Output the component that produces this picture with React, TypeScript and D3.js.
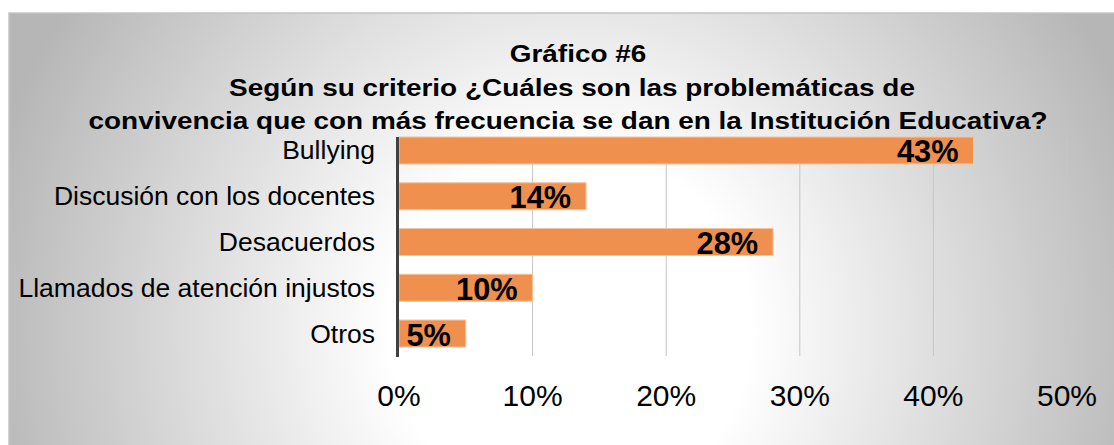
import React from 'react';
import * as d3 from 'd3';

// chart values
const categories = [
  'Bullying',
  'Discusión con los docentes',
  'Desacuerdos',
  'Llamados de atención injustos',
  'Otros',
];
const values = [43, 14, 28, 10, 5];
const xTicks = [0, 10, 20, 30, 40, 50];
const titleLines = [
  'Gráfico #6',
  'Según su criterio ¿Cuáles son las problemáticas de',
  'convivencia que con más frecuencia se dan en la Institución Educativa?',
];

const width = 1114;
const height = 445;
const font = '"Liberation Sans", Arial, sans-serif';

export default function App() {
  const x = d3.scaleLinear().domain([0, 50]).range([399, 1067]);
  const y = d3.scaleBand().domain(categories).range([137, 347]).paddingInner(0.41).paddingOuter(0);
  const titleX = [578, 572, 568];
  const titleY = [62, 96, 129];

  return (
    <div style={{ position: 'fixed', left: 0, top: 0 }}>
      <svg width={width} height={height} style={{ display: 'block' }}>
        <defs>
          <radialGradient id="bg" gradientUnits="userSpaceOnUse" cx={570} cy={330} r={600}>
            <stop offset="0" stopColor="#ffffff" />
            <stop offset="0.3" stopColor="#ffffff" />
            <stop offset="1" stopColor="#b6b6b6" />
          </radialGradient>
        </defs>
        <rect x={0} y={0} width={width} height={height} fill="#fff" />
        <rect x={9} y={13} width={width} height={height} fill="url(#bg)" stroke="#c4c4c4" strokeWidth={1.5} />

        {xTicks.slice(1).map(t => (
          <line key={t} x1={x(t)} x2={x(t)} y1={137} y2={356} stroke="#c6c6c6" strokeWidth={1} />
        ))}

        {categories.map((c, i) => {
          const cy = (y(c) ?? 0) + y.bandwidth() / 2;
          return (
            <g key={c}>
              <rect
                x={x(0)}
                y={y(c)}
                width={x(values[i]) - x(0)}
                height={y.bandwidth()}
                fill="#f0904f"
                stroke="#f6c39c"
                strokeWidth={1}
              />
              <text
                transform={`translate(${x(values[i]) - 15},${cy + 12}) scale(0.96,1)`}
                textAnchor="end"
                fontFamily={font}
                fontWeight="bold"
                fontSize={32}
                fill="#000"
              >
                {values[i]}%
              </text>
              <text
                x={375}
                y={cy + 9}
                textAnchor="end"
                fontFamily={font}
                fontSize={26.5}
                fill="#000"
              >
                {c}
              </text>
            </g>
          );
        })}

        <line x1={x(0) - 1.5} x2={x(0) - 1.5} y1={137} y2={357} stroke="#404040" strokeWidth={3} />

        {xTicks.map(t => (
          <text key={t} x={x(t)} y={406} textAnchor="middle" fontFamily={font} fontSize={30} fill="#000">
            {t}%
          </text>
        ))}

        {titleLines.map((line, i) => (
          <text
            key={i}
            transform={`translate(${titleX[i]},${titleY[i]}) scale(1.14,1)`}
            textAnchor="middle"
            fontFamily={font}
            fontWeight="bold"
            fontSize={24.5}
            fill="#000"
          >
            {line}
          </text>
        ))}
      </svg>
    </div>
  );
}
